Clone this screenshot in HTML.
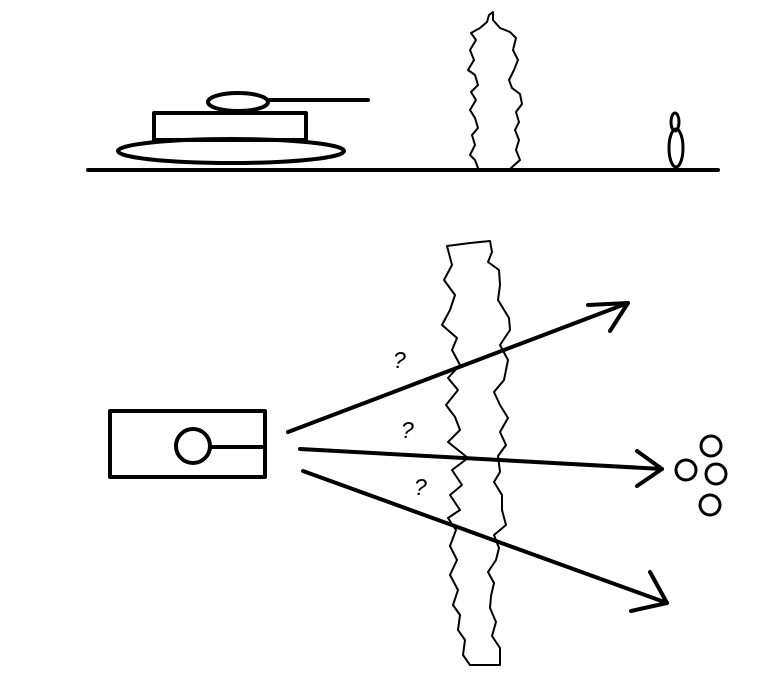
<!DOCTYPE html>
<html><head><meta charset="utf-8"><style>
html,body{margin:0;padding:0;background:#fff;}
svg{display:block}
text{font-family:"Liberation Sans",sans-serif;font-style:italic;font-size:23px;fill:#000}
</style></head><body>
<svg width="773" height="678" viewBox="0 0 773 678" xmlns="http://www.w3.org/2000/svg" fill="none" stroke="#000" stroke-linejoin="round" stroke-linecap="round">
<line x1="88" y1="170" x2="718" y2="170" stroke-width="4"/>
<ellipse cx="231" cy="151" rx="113" ry="12" stroke-width="4"/>
<rect x="154" y="113" width="152" height="27" stroke-width="4"/>
<ellipse cx="238" cy="102" rx="30" ry="9" stroke-width="4"/>
<line x1="268" y1="100" x2="368" y2="100" stroke-width="4"/>
<polyline stroke-width="2" points="478,168 475,160 470,155 475,145 472,135 478,128 475,118 470,110 476,100 471,92 478,85 475,75 468,70 474,60 470,50 476,40 471,33 480,28 487,22 489,15 493,12 493,20 500,28 510,32 516,38 513,50 518,60 514,70 509,80 512,88 520,94 522,104 516,112 519,122 515,130 519,140 516,150 520,160 511,168"/>
<ellipse cx="675" cy="122" rx="4" ry="9" stroke-width="3"/>
<ellipse cx="676" cy="148" rx="7" ry="19" stroke-width="3"/>
<polyline stroke-width="2" points="447,246 470,243 490,241 492,252 488,262 499,270 500,285 498,300 509,318 510,330 500,345 508,360 504,380 494,392 500,405 508,418 500,432 506,445 498,456 500,472 494,482 502,495 502,510 506,525 494,535 499,548 496,560 488,572 494,583 491,596 490,608 496,622 492,636 500,648 500,665 470,665 463,655 465,640 458,630 460,615 453,605 458,590 450,575 457,560 450,546 456,530 448,518 460,510 450,495 462,485 452,470 468,458 448,442 460,430 455,417 446,405 458,390 448,378 460,365 452,350 457,338 442,325 450,310 455,295 444,280 452,265 447,246"/>
<rect x="110" y="411" width="155" height="66" stroke-width="4"/>
<circle cx="193" cy="446" r="17" stroke-width="4"/>
<line x1="210" y1="447" x2="265" y2="447" stroke-width="4"/>
<g stroke-width="4">
<line x1="288" y1="432" x2="628" y2="303"/>
<polyline points="588,305 628,303 610,331"/>
<line x1="300" y1="449" x2="662" y2="469"/>
<polyline points="637,451 662,469 637,486"/>
<line x1="303" y1="471" x2="667" y2="603"/>
<polyline points="650,572 667,603 631,611"/>
</g>
<g stroke-width="3">
<circle cx="711" cy="446" r="10"/>
<circle cx="686" cy="470" r="10"/>
<circle cx="716" cy="474" r="10"/>
<circle cx="710" cy="505" r="10"/>
</g>
<g stroke="none">
<text x="393" y="368">?</text>
<text x="401" y="438">?</text>
<text x="414" y="495">?</text>
</g>
</svg>
</body></html>
